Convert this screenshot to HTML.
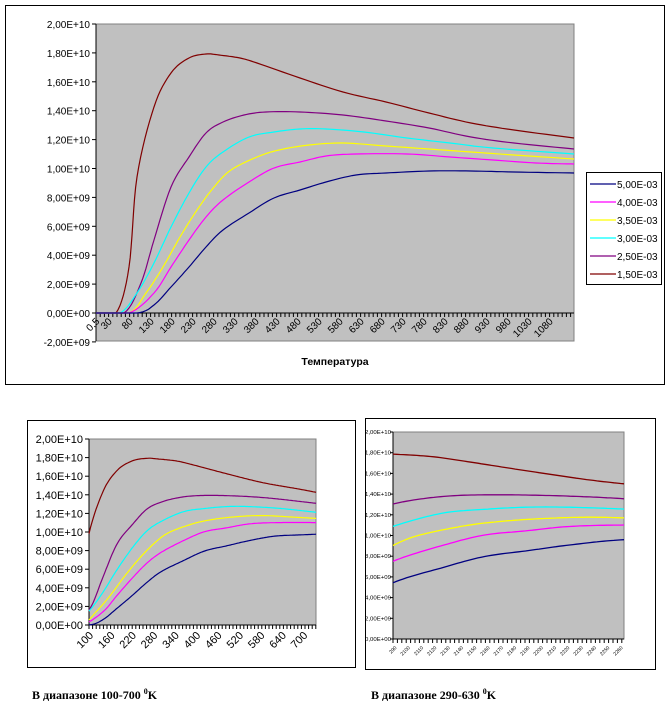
<!DOCTYPE html>
<html><head><meta charset="utf-8"><style>
body{margin:0;background:#fff;width:671px;height:719px;overflow:hidden}
svg{position:absolute;left:0;top:0}
text{font-family:"Liberation Sans",Arial,sans-serif}
</style></head><body>
<svg id="s" width="671" height="719" xmlns="http://www.w3.org/2000/svg"></svg>
<script>
const S=document.getElementById('s');let h='';
const raw={
'#800000':[[96,313],[116,313],[129,267],[137,177],[154,107],[171,73],[189,58],[206,54],[219,55],[240,58],[257,63],[300,78],[343,92],[386,102],[429,113],[471,123],[514,130],[574,138]],
'#800080':[[96,313],[124,313],[141,283],[154,240],[171,187],[189,157],[206,133],[223,122],[244,115],[266,112],[300,112],[343,115],[386,121],[429,128],[471,137],[514,143],[574,149]],
'#00ffff':[[96,313],[120,313],[137,293],[154,263],[171,227],[189,193],[206,167],[223,152],[249,137],[274,132],[300,129],[326,129],[364,132],[407,138],[450,143],[493,148],[574,154]],
'#ffff00':[[96,313],[129,313],[146,293],[163,267],[180,237],[197,210],[214,187],[231,170],[257,157],[279,150],[309,145],[343,143],[386,146],[429,149],[471,152],[514,155],[574,159]],
'#ff00ff':[[96,313],[129,313],[154,293],[171,267],[189,240],[206,217],[223,200],[249,182],[274,168],[300,162],[326,156],[356,154],[407,154],[450,157],[493,160],[536,163],[574,164]],
'#000080':[[96,313],[137,313],[154,305],[171,287],[189,267],[206,247],[223,230],[249,213],[274,198],[300,190],[326,182],[356,175],[386,173],[429,171],[471,171],[514,172],[574,173]]};
// Catmull-Rom densify
function smooth(p){const o=[];for(let i=0;i<p.length-1;i++){const p0=p[Math.max(0,i-1)],p1=p[i],p2=p[i+1],p3=p[Math.min(p.length-1,i+2)];for(let k=0;k<8;k++){const t=k/8,t2=t*t,t3=t2*t;const f=(a,b,c,d)=>0.5*((2*b)+(-a+c)*t+(2*a-5*b+4*c-d)*t2+(-a+3*b-3*c+d)*t3);o.push([f(p0[0],p1[0],p2[0],p3[0]),Math.min(313,f(p0[1],p1[1],p2[1],p3[1]))]);}}o.push(p[p.length-1]);return o;}
const sm={};for(const c in raw)sm[c]=smooth(raw[c]);
const data={};for(const c in sm)data[c]=sm[c].map(p=>[(p[0]-96)/0.42,(313-p[1])/14.45]);
function val(c,T){const d=data[c];for(let i=1;i<d.length;i++){if(T<=d[i][0]){const a=d[i-1],b=d[i];if(b[0]==a[0])return b[1];return a[1]+(b[1]-a[1])*(T-a[0])/(b[0]-a[0]);}}return d[d.length-1][1];}
function rect(x,y,w,hh,f,s){h+=`<rect x="${x}" y="${y}" width="${w}" height="${hh}" fill="${f}" stroke="${s||'none'}"/>`;}
function txt(x,y,t,sz,anc,extra){h+=`<text x="${x}" y="${y}" font-size="${sz}" text-anchor="${anc||'start'}" ${extra||''}>${t}</text>`;}
// main
rect(5.5,5.5,659,379,'#fff','#000');
rect(96,24,478,317,'#c0c0c0','#808080');
h+=`<line x1="96" y1="24" x2="96" y2="341" stroke="#000"/>`;
const yl=['2,00E+10','1,80E+10','1,60E+10','1,40E+10','1,20E+10','1,00E+10','8,00E+09','6,00E+09','4,00E+09','2,00E+09','0,00E+00','-2,00E+09'];
yl.forEach((t,i)=>{const y=24+i*28.9;h+=`<line x1="92" y1="${y}" x2="96" y2="${y}" stroke="#000"/>`;txt(90,y+4,t,10,'end');});
h+=`<line x1="96" y1="313" x2="574" y2="313" stroke="#000"/>`;
for(let x=96;x<=574;x+=4.2)h+=`<line x1="${x}" y1="313" x2="${x}" y2="317" stroke="#000"/>`;
const xl=['0,5','30','80','130','180','230','280','330','380','430','480','530','580','630','680','730','780','830','880','930','980','1030','1080'];
xl.forEach((t,i)=>{const T=i==0?0:(i==1?30:30+(i-1)*50);const x=96+T*0.42+4;txt(x,322,t,10,'end',`transform="rotate(-45 ${x} 322)"`);});
for(const c in sm)h+=`<polyline fill="none" stroke="${c}" stroke-width="1.2" points="${sm[c].map(p=>p[0].toFixed(1)+','+p[1].toFixed(1)).join(' ')}"/>`;
txt(335,365,'Температура',10.5,'middle','font-weight="bold"');
rect(586.5,172.5,75,112,'#fff','#000');
const lg=[['#000080','5,00E-03'],['#ff00ff','4,00E-03'],['#ffff00','3,50E-03'],['#00ffff','3,00E-03'],['#800080','2,50E-03'],['#800000','1,50E-03']];
lg.forEach((l,i)=>{const y=184+i*18;h+=`<line x1="590" y1="${y}" x2="616" y2="${y}" stroke="${l[0]}" stroke-width="1.2"/>`;txt(617,y+4,l[1],10);});
// bottom-left
rect(27.5,420.5,328,247,'#fff','#000');
rect(89,439,227,186,'#c0c0c0','#808080');
h+=`<line x1="89" y1="439" x2="89" y2="625" stroke="#000"/><line x1="89" y1="625" x2="316" y2="625" stroke="#000"/>`;
for(let i=0;i<=10;i++){const y=439+i*18.6;h+=`<line x1="85" y1="${y}" x2="89" y2="${y}" stroke="#000"/>`;txt(83,y+4,yl[i],11,'end');}
for(let x=89;x<=316;x+=3.6)h+=`<line x1="${x}" y1="625" x2="${x}" y2="629" stroke="#000"/>`;
for(let i=0;i<11;i++){const T=100+i*60;const x=89+(T-100)*0.357+5;txt(x,636,T,11,'end',`transform="rotate(-45 ${x} 636)"`);}
for(const c in raw){let p=[];for(let T=100;T<=736;T+=4)p.push((89+(T-100)*0.357).toFixed(1)+','+(625-val(c,T)*9.3).toFixed(1));h+=`<polyline fill="none" stroke="${c}" stroke-width="1.2" points="${p.join(' ')}"/>`;}
// bottom-right
rect(365.5,418.5,290,251,'#fff','#000');
rect(393,432,231,207,'#c0c0c0','#808080');
h+=`<line x1="393" y1="432" x2="393" y2="639" stroke="#000"/><line x1="393" y1="639" x2="624" y2="639" stroke="#000"/>`;
const yr=['2,00E+10','1,80E+10','1,60E+10','1,40E+10','1,20E+10','1,00E+10','8,00E+09','6,00E+09','4,00E+09','2,00E+09','0,00E+00'];
yr.forEach((t,i)=>{const y=432+i*20.7;h+=`<line x1="390" y1="${y}" x2="393" y2="${y}" stroke="#000"/>`;txt(391,y+2,t,5.5,'end','textLength="26" lengthAdjust="spacingAndGlyphs"');});
for(let x=393;x<=624;x+=4.4)h+=`<line x1="${x}" y1="639" x2="${x}" y2="643" stroke="#000"/>`;
for(let i=0;i<18;i++){const x=397+i*13.3;txt(x,648,'2'+(9+i)+'0',5,'end',`transform="rotate(-45 ${x} 648)"`);}
for(const c in raw){let p=[];for(let T=290;T<=630;T+=5)p.push((393+(T-290)*231/340).toFixed(1)+','+(639-val(c,T)*10.35).toFixed(1));h+=`<polyline fill="none" stroke="${c}" stroke-width="1.3" points="${p.join(' ')}"/>`;}
h+=`<text x="32" y="699" font-size="12" font-weight="bold" style="font-family:'Liberation Serif',serif">В диапазоне 100-700 <tspan dy="-5" font-size="8">0</tspan><tspan dy="5">K</tspan></text>`;
h+=`<text x="371" y="699" font-size="12" font-weight="bold" style="font-family:'Liberation Serif',serif">В диапазоне 290-630 <tspan dy="-5" font-size="8">0</tspan><tspan dy="5">K</tspan></text>`;
S.innerHTML=h;
</script>
</body></html>
